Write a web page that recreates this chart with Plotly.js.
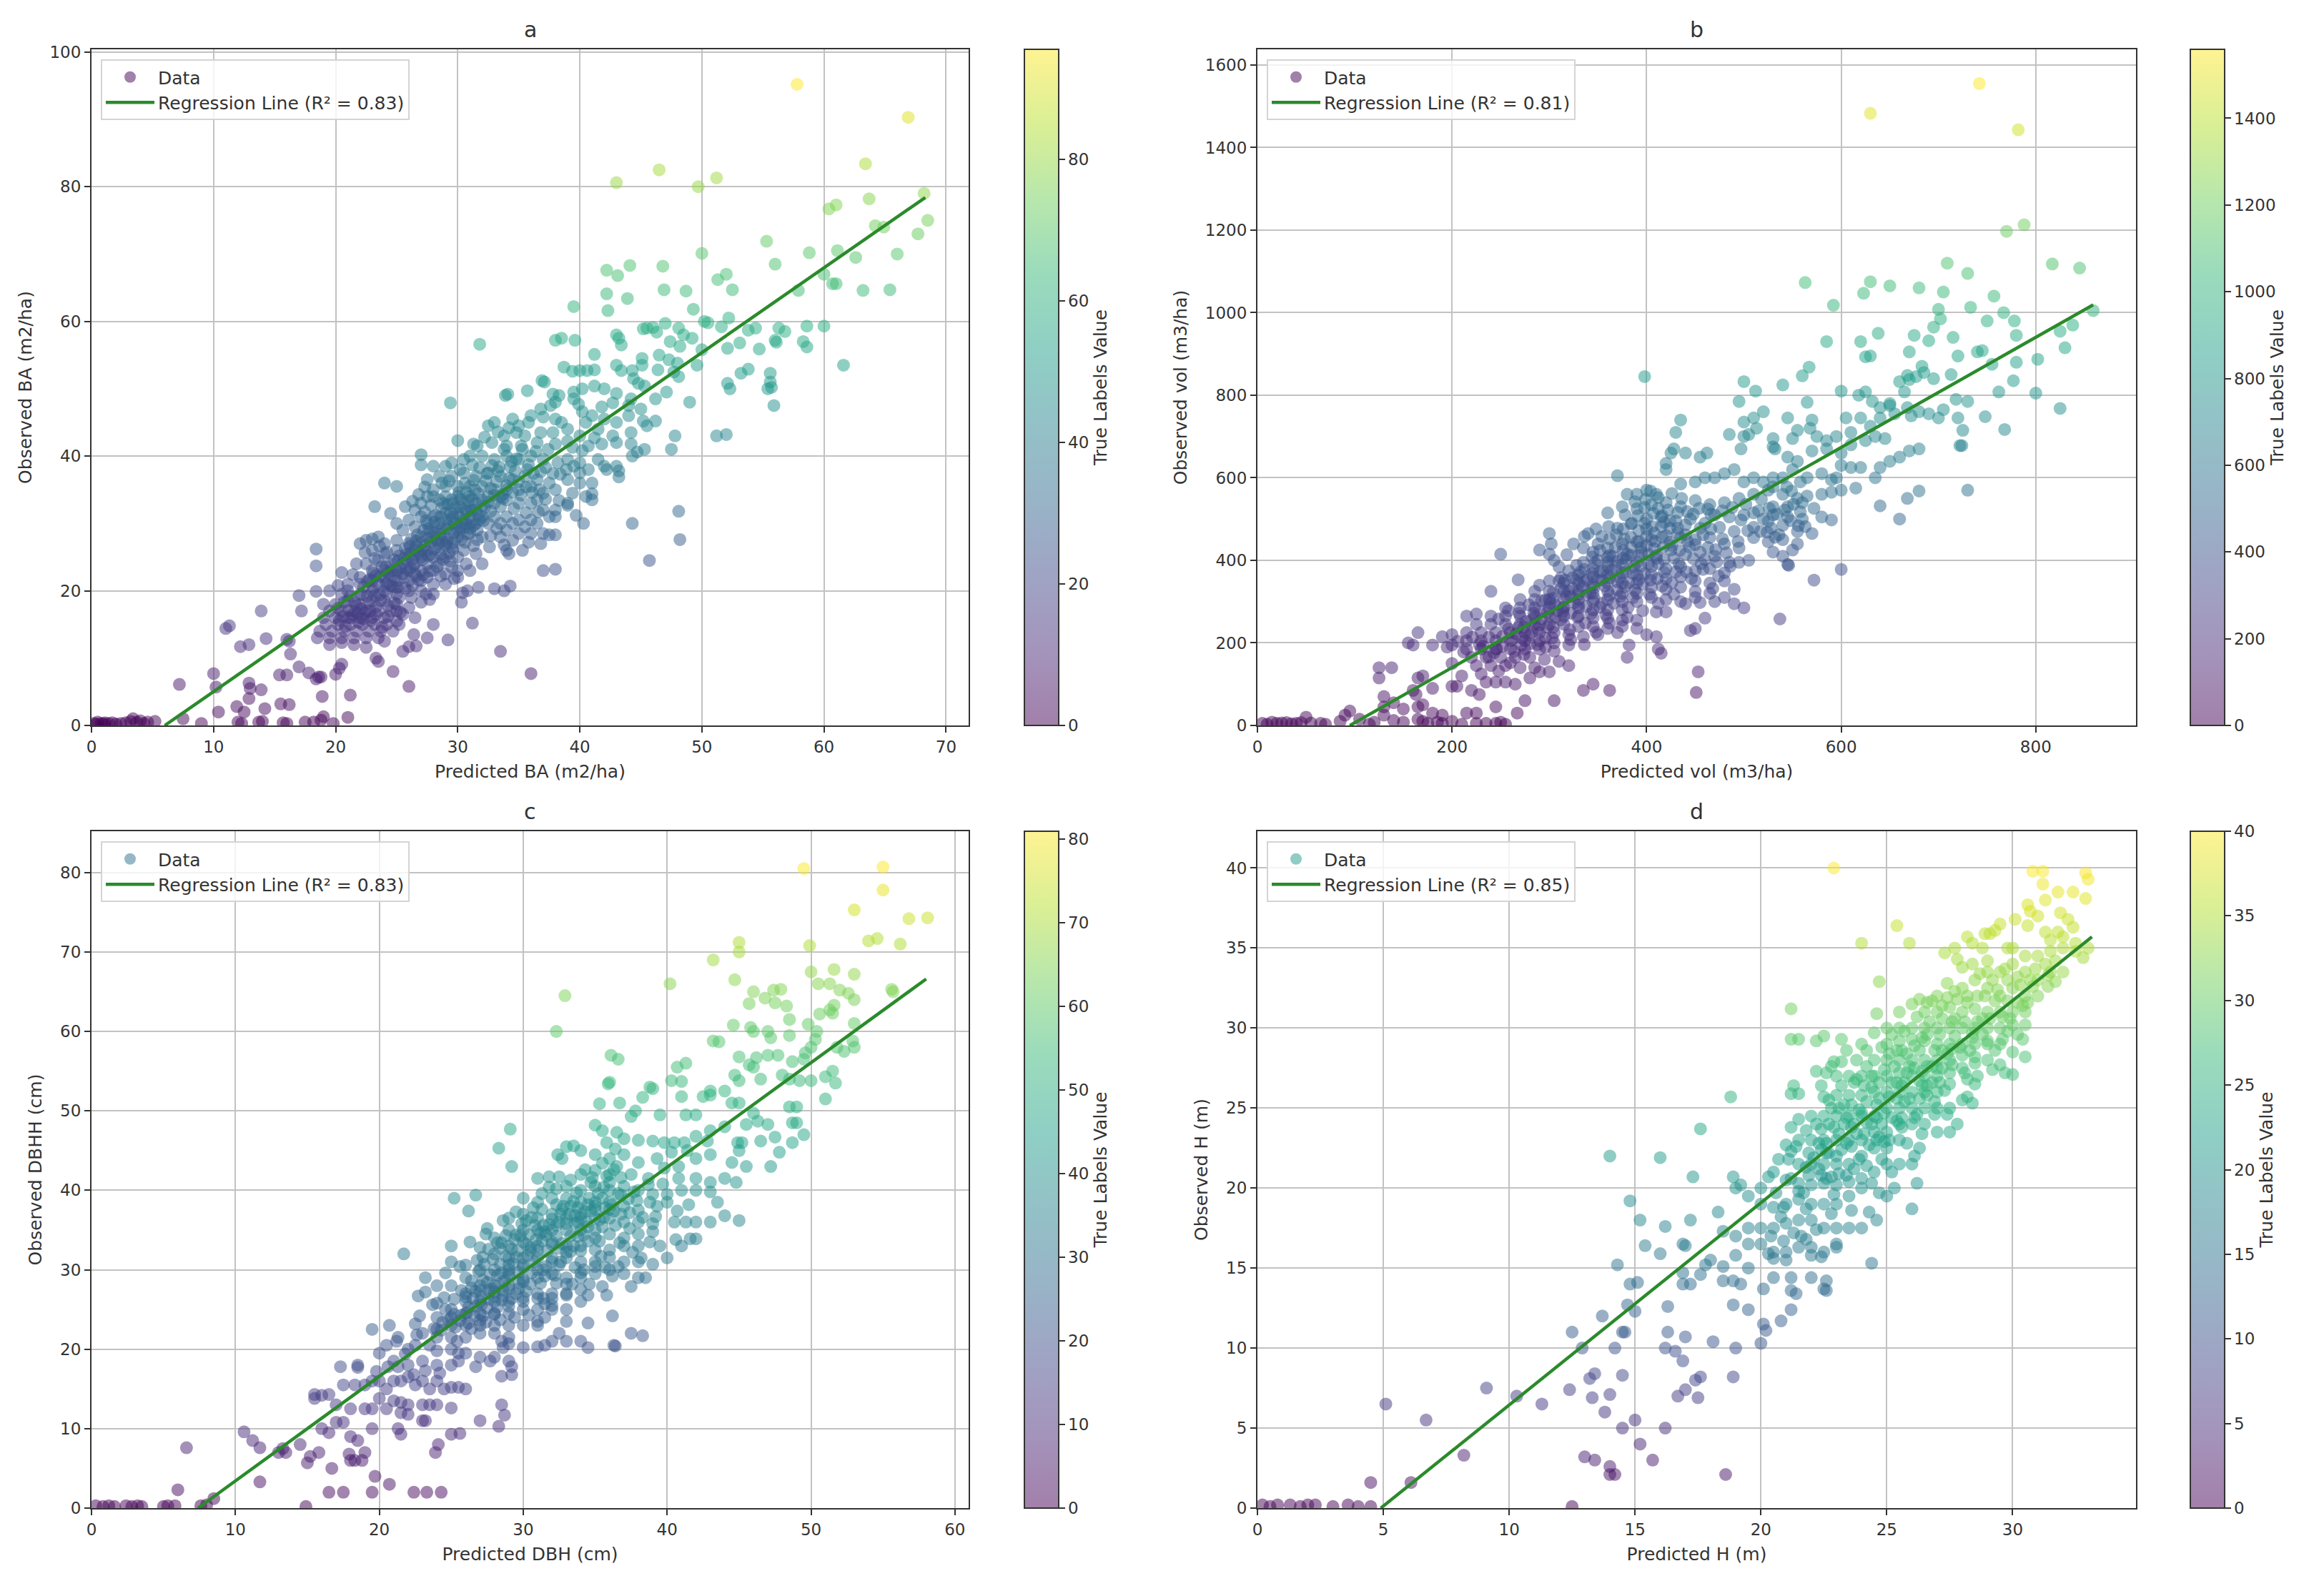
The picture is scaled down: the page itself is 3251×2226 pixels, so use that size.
<!DOCTYPE html>
<html>
<head>
<meta charset="utf-8">
<script src="https://cdn.plot.ly/plotly-3.0.1.min.js"></script>
<style>
  body { margin: 0; background: #fff; }
</style>
</head>
<body>
<div id="chart"></div>
<script>
// [predicted, observed] pairs, first pair sets the legend dot colour
const baPoints = [
[0.2,0.3],[0.5,0.5],[0.8,0.3],[1.1,0.4],[1.4,0.3],[1.7,0.4],[2,0.2],[2.4,0.3],[2.8,0.4],[3.2,0.6],[3.4,1],[3.7,0.5],[4,0.7],[4.3,0.3],[4.6,0.5],[5.2,0.6],[0.4,0.2],[1,0.2],
[57.8,95.2],[66.9,90.3],[63.4,83.4],[46.5,82.5],[43,80.6],[51.2,81.3],[49.7,80],[68.2,79],[63.7,78.2],[61,77.3],[60.4,76.7],[64.2,74.2],[64.9,74],[68.5,75],[67.7,73],[55.3,71.9],[50,70.1],[58.8,70.2],[61.1,70.5],[62.6,69.5],[66,70],[56,68.5],[46.8,68.2],[44.1,68.3],[42.2,67.6],[43.1,66.8],[52,67],[51.3,66.2],[60,67],[60.7,65.6],[61,65.6],[52.5,64.7],[48.7,64.5],[46.9,64.7],[42.2,64.1],[43.9,63.4],[57.9,64.6],[63.2,64.6],[65.4,64.7],[39.5,62.2],[42.3,61.6],[49.3,61.8],[50.2,60],[50.5,59.8],[51.6,59.2],[52.2,60.5],[53.8,58.7],[54.4,59],[56.3,59],[56.8,58.5],[58.6,59.3],[60,59.3],[31.8,56.6],[48.1,59],[47,59.7],[46,59.1],[45.2,58.9],[45.5,59],[46.3,58.4],[48.5,58],[49.2,57.5],[47.4,57],[48.2,56.3],[43,58],[43.2,57.5],[43.4,56.5],[38.5,57.5],[38,57.2],[39.6,57.2],[41.2,55.1],[56,57.2],[58.3,57],[58.6,56.2],[56.1,56.9],[52.1,56],[53.1,56.8],[54.7,55.9],[50,55.8],[46.5,55],[45.1,54.5],[47.3,54.3],[48,53.8],[49.6,53.5],[38.7,53.2],[39.4,52.6],[40,52.7],[40.6,52.7],[41.2,52.8],[43,53.5],[43.4,52.7],[44.3,52.7],[45.1,53.5],[46.4,52.8],[47.7,52.5],[48.1,51.8],[61.6,53.5],[53.2,52.3],[53.8,52.9],[55.6,52.3],[55.6,51],[55.4,50],[55.7,50.2],[52.1,50.8],[52.3,50],[55.9,47.5],[49,48],[44.8,50.8],[45.3,50.4],[44.4,51.5],[37.1,51],[36.9,51.2],[34.1,49.2],[33.9,49],[35.7,49.7],[29.4,47.9],[37.8,49.2],[38.3,49],[39.5,49.5],[40.2,50],[41.2,50.4],[42,50],[43,49.3],[44.2,48.5],[46.2,48.5],[47.1,49.5],[38,48],[39.5,48.5],[39.9,47.7],[37.6,47.5],[41.8,47.3],[42.7,47.9],[44,47.5],[45,47],[45.2,45.2],[46.2,45.2],[44,46],
[32.5,44.5],[33,45],[34.5,45.5],[35,44.5],[36,46],[37,45.8],[38,45.5],[38.5,45],[40.5,45],[41,46],[42,45.5],[43,45],[45.5,44.5],[33.8,43],[34.8,43.5],[35.5,43],[36.8,43.5],[37.8,43.5],[39,44],[40,43],[41.5,44],[42.7,43],[44.2,43.5],
[30,42.3],[31.3,41.8],[31.6,41.5],[32.8,42],[34,41.5],[35.2,41.5],[36.5,42],[38,41.8],[39,42.2],[40.7,41.5],[41.8,41.8],[43,42],[44.2,41.8],[47.8,43],[51.2,43],[52,43.2],[44.7,40.6],[45.3,41],[47.5,41],[44.3,40],
[27,40.2],[27,38.7],[28,38.5],[29,38.5],[29.5,39],[30.5,39.5],[31,40],[32,40],[33,39.5],[34,40],[35,39.5],[36,40],[37,39.5],[38.2,39],[39,39.5],[40,39],[41.5,39.5],[42,38.5],[43,38.5],[43.2,37.8],[42.2,38],[38.9,38],[39.5,38.5],
[24,36],[25,35.5],[27.5,36.5],[28.5,37],[29.5,37],[30.5,37.5],[31.5,37],[32.5,37.5],[33.5,37],[34.5,36.5],[35.5,37],[36.5,36.5],[37.5,36],[39,36.5],[40,36],[41,36],[43.2,36.9],[28,35],[29,35.5],[30,35.5],[31,35.5],[32,35.5],[33,35],[34,35],[35,35],[36,35.5],[37,34.5],[38,35],[40.5,34],[41,34.4],
[23.2,32.5],[24.5,31.5],[25.7,32.5],[26.5,32],[27,33],[27.5,34],[28,34],[28.5,33.5],[29,34],[29.5,33.5],[30,34],[30.5,33],[31,34],[31.5,33],[32,33.5],[32.5,34],[33,33],[33.5,32.5],[34,33.5],[35,33],[36,33],[36.5,33.5],[37,32],[38,32],[39,33],[39,32.7],[41,33.5],[38,31],[44.3,30],[48.1,31.8],[40.3,30],
[25,30],[25.5,29],[26,30.5],[26.5,29.5],[27,31],[27.5,30],[28,31],[28.5,30],[29,31.5],[29.5,30.5],[30,31.5],[30.5,30.5],[31,31],[31.5,30],[32,31],[32.5,30],[33,31],[33.5,30],[34,31],[34.5,30],[35,30.5],[35.5,29.5],[36,30.5],[36.5,30],[37.5,31],[34,29],[35,28.5],[36,28.5],[37,28.5],[37.5,28.3],[38,28.3],[33.5,28],[34.5,27.5],[48.2,27.6],[45.7,24.5],[37,23],[38,23.2],[34.2,25.5],[34,26],[31.5,25.5],[32,24],[31,23],[30,23],[31.7,20.5],[30.8,20],[30.4,19.7],[33,20.3],[33.8,20],[34.3,20.7],[30.3,18.3],[27,18.3],[27.7,18.7],[25,19.5],[26.2,19],[28,15],[31.2,15.2],[29.2,12.7],[26.4,13.5],[25.5,11],[26,11.7],[33.5,11],[23.5,9.5],[23.3,10],[24.7,8],[26,5.8],[36,7.7],
[22,27],[22.5,27.5],[23,27.7],[23.5,28],[24,27],[25,27.5],[26,27],[27,28],[28,28],[29,28],[30,28],[31,28.5],[32,28],[26.5,26],[27.5,26],[28.5,26.5],[29.5,26.5],[30.5,26],[23,26],[24,25.5],[25,26],[26,25],[27,25],[28,25],[29,25],[30,25],[21.7,24],[22.5,24],[23.5,24.5],[24.5,24],[25.5,24],[26.5,24],[27.5,24],[28.5,24],[29.5,23.5],[22,22],[23,23],[24,23],[25,23],[26,23],[27,23],[28,23],[29,22.5],[30,22],
[21,21],[22,21],[23,21.5],[24,22],[25,21.5],[26,21.5],[27,21.5],[28,21],[29,21],[27,20],[21,20],[20.5,19.5],[22,19.5],[23,20],[24,20],[25,20.5],[26,20],[28,19.5],[23.5,21],[24.5,20.8],[25.5,22.5],[26.5,22.5],[27.5,22],
[18.4,26.2],[18.4,23.7],[19.5,20],[17,19.3],[18.4,19.9],[17.2,17],[13.9,17],[11,14.4],[11.3,14.8],[12.2,11.7],[12.9,12],[14.3,12.9],[16,12.8],[16.2,12.5],[16.3,10.6],[17,8.7],[15.4,7.5],[16,7.5],[17.8,7.8],[18.6,7.2],[18.4,6.9],[18.8,7.2],[7.2,6.1],[10,7.7],[10.2,5.7],[12.9,6.3],[13,5.5],[13.9,5.3],[12.9,4],[18.9,4.3],[21.2,4.5],[20,7.6],[20.3,8.5],[20.5,9.1],[10.4,2],[11.9,2.8],[12.5,2],[14.2,2.5],[15.5,3.2],[16.2,3.1],[19,1.3],[21,1.2],[7.5,1],[9,0.3],[12,0.5],[12.3,0.3],[13.7,0.5],[14,0.6],[15.7,0.4],[16,0.3],[17.5,0.5],[18.2,0.5],[18.8,0.8],[19.8,0.3],
[19,18],[20,18],[21,18.5],[22,18],[23,18.5],[24,18.5],[25,18],[26,17.5],[19.5,17],[20.5,17],[21.5,17],[22.5,17],[23.5,17],[24.5,17],[25.5,16.5],[19,16],[20,16],[21,16],[22,16],[23,16],[24,16],[25,15.5],[19.2,15],[20.2,15],[21.2,15],[22.2,15],[23.2,15],[24.2,15],[25.2,15],[18.7,14],[19.7,14],[20.7,14],[21.7,14],[22.7,14],[23.7,14],[24.7,14],[18.5,13],[19.5,13],[20.5,13],[21.5,13],[22.5,13],[23.5,13],[19.5,12],[20.5,12.3],[21.5,12],[22.5,11.6],[24,12.5],[26.6,11.8],[27.5,13],[25,17],[26.5,16]
];
// second pass over the dense part of panel a
const baCore = [
[20.3,15.6],[20.8,14.7],[21.4,16.4],[21.9,15.3],[22.4,16.7],[22.9,15.6],[23.3,17.6],[23.8,14.6],[24.3,16.2],[24.8,18.2],[25.3,16.8],[20.2,17.4],[20.7,18.3],[21.2,19.2],[21.7,17.8],[22.2,19.4],[22.7,18.2],[23.2,19.3],[23.7,18.6],[24.2,19.6],[24.7,20.6],[25.2,19],[25.7,20.4],[26.3,20.8],[26.8,21.6],[27.2,22.4],[27.7,22.9],[28.3,23.6],[28.8,24.7],[29.3,25.6],[29.7,27.2],[30.3,27.6],[30.8,28.4],[31.3,29.7],[31.8,30.6],[22.3,20.6],[22.8,21.7],[23.3,22.3],[23.8,23.6],[24.3,22.7],[24.8,24.6],[25.3,23.4],[25.8,25.4],[26.3,24.7],[26.8,25.6],[27.3,26.7],[27.8,27.2],[28.2,27.6],[28.7,27.3],[29.2,27.7],[29.7,28.6],[30.2,29.4],[30.7,30],[31.2,32],[31.7,31.3],[25.2,25.2],[25.7,26.3],[26.2,27.7],[26.7,28.3],[27.2,29],[27.7,28.8],[28.2,29.4],[28.7,29.2],[29.2,29.7],[29.7,30],[30.2,32.4],[30.7,31.8],[31.2,33.6],[31.7,34.4],[32.2,32.3],[32.7,35.2],[33.2,36.2],[33.7,34.3],[34.2,36.7],[34.7,37.8],[35.2,34.2],[35.7,38],[36.2,37.4],[37.2,38.3],[37.8,37.4],[38.4,37.3],[28.2,31.2],[28.7,32.3],[29.2,32.8],[29.7,32.2],[30.2,33.6],[30.7,34.6],[27.3,31.7],[27.8,32.7],[31.3,36.4],[31.8,38.3],[32.3,36.3],[32.8,38.6],[33.3,37.8],[33.8,41],[34.3,38.4],[34.8,39.6],[35.3,41],[35.8,38.7],[36.4,40.7],[36.8,37.7],[37.4,41],[39.4,41.3],[40.2,40.8],[40.7,38],[41.2,42.7],[32.2,42.8],[33.3,43.6],[34.2,44.2],[35.8,45],[36.8,47],[40.2,46.6],[31.2,38.7],[30.2,38],[29.3,36.3],[28.7,36],[27.3,35.4],[26.8,34.3],[26.3,33.3],[33.2,29.2],[32.7,28.2],[33.8,26.8],[32.6,26.5],[31.3,26.7],[35.3,26],[35.8,27.2],[36.8,27],[30.7,24],[29.7,21.8],[28.6,22.2],[27.4,19.5],[24.2,25.7],[23.6,26.6],[22.4,25.7],[21.4,22.4],[20.5,22.7],[20.2,20.8],[23.2,24.8],[29.4,24.4],[30.6,27.2],[31.6,27.6],[32.7,31.8],[33.7,33.7],[34.6,32.2],[35.6,31.6],[36.6,31.7],[37.2,33.6],[38.3,33.4],[39.4,34.5],[40,37.5],[39.7,31.2],
[20.6,16.2],[21.1,17.1],[21.6,18.2],[22.1,17.3],[22.6,19.2],[23.1,20.4],[23.6,19.4],[24.1,21],[24.6,22.2],[25.1,20.6],[25.6,22],[26.1,23.4],[26.6,22.2],[27.1,24.6],[27.6,25.2],[28.1,26.2],[28.6,25.4],[29.1,27.2],[29.6,26.2],[30.1,28.8],[30.6,29.4],[31.1,30.2],[31.6,29],[32.1,30.4],[22.6,21.4],[23.1,22.6],[23.6,22.1],[24.1,23.6],[24.6,23],[25.1,24.4],[25.6,24.8],[26.1,25.6],[26.6,26.6],[27.1,26],[27.6,27.8],[28.1,28.6],[28.6,28.4],[29.1,29.2],[29.6,31],[30.1,31],[30.6,32.2],[31.1,31.8],[26.1,26.6],[26.6,27.4],[27.1,27.2],[27.6,29.2],[28.1,30.2],[28.6,31],[29.1,30.6],[29.6,33],[30.1,34.6],[30.6,36],[24.2,21.2],[25,22.4],[25.8,23.2],[26.4,23.8],[27,25.4],[27.8,25.4],[28.4,27],[29,26.8],[29.9,29],[30.4,30],[31,29.3],[31.5,32],[32,32.6],[32.5,33.2],[33,34.2],[33.5,34],[34,35.6],[34.5,34.6],[35,36.2],[35.6,35.4],[36.1,34.6],[36.7,35],[27.4,30.4],[28.8,33],[29.4,31.6],[30.9,33.4],[31.4,35],[32.4,37.4],[33.4,38.4],[34.4,39.2],[21.3,16],[22.3,15.8],[23.3,16.5],[24.3,17.8],[22.8,17],[21.8,16.6]
];
const volPoints = [
[5,5],[15,8],[25,6],[35,4],[45,7],[55,6],[65,5],[10,3],[20,5],[30,7],[40,5],[50,20],[70,3],[85,10],[90,25],[95,35],[115,3],[105,15],[120,8],[130,25],[140,12],[150,8],[165,15],[170,10],[175,5],[185,8],[190,5],[200,10],[210,3],[225,5],[235,5],[245,5],[250,8],[255,3],[130,45],[140,55],[150,40],[165,45],[170,50],[180,30],[190,25],[215,30],[225,30],[245,45],[267,30],[275,60],[305,60],[335,85],[345,100],[362,85],[451,80],[453,130],[415,175],[412,185],
[630,1483],[742,1555],[782,1443],[788,1213],[770,1197],[563,1073],[630,1075],[623,1047],[650,1065],[680,1060],[709,1120],[730,1095],[817,1118],[845,1108],[705,1050],[757,1040],[592,1018],[700,1008],[733,1013],[767,1000],[859,1005],[702,985],[750,980],[778,980],[695,965],[715,940],[780,945],[838,970],[825,955],[585,930],[620,930],[638,950],[675,945],[690,932],[670,905],[630,895],[625,893],[720,895],[740,905],[745,908],[830,915],[780,880],[755,875],[802,887],[567,868],[560,847],[398,845],[683,870],[677,845],[670,838],[660,833],[685,855],[668,848],[695,840],[713,850],[777,835],[500,833],[540,825],[512,810],[600,810],[618,800],[625,808],[632,785],[650,780],[640,770],[565,783],[495,785],[500,735],
[650,775],[665,808],[668,770],[680,760],[672,750],[690,755],[705,765],[718,790],[730,785],[720,745],[700,745],[748,748],[762,808],[800,805],[825,768],[768,717],[725,715],[724,678],[722,678],[730,570],[680,568],[668,550],[640,532],[660,500],[580,505],[590,498],[600,378],[572,352],[546,388],[537,258],[435,740],[430,710],[505,705],[485,705],[513,720],[510,745],[520,760],[545,745],[570,740],[568,720],[575,700],[585,690],[595,700],[610,710],[605,745],[620,745],[630,725],[640,745],[655,755],[625,690],[635,700],[645,695],[555,715],[530,695],[550,695],[530,675],[532,670],[600,660],[610,680],[585,670],[570,665],[670,665],[680,670],[660,650],[650,640],[640,625],[635,600],[620,625],[610,625],[600,630],[595,600],[580,610],[590,595],[555,640],[545,650],[497,670],[500,700],[462,660],[455,650],[425,660],[428,670],[440,660],[420,635],[420,620],[370,605],[380,560],[390,560],[400,570],[410,560],[435,585],[450,590],[460,600],[470,600],[480,610],[490,620],[500,590],[510,600],[520,590],[530,600],[540,600],[550,620],[565,600],[580,560],[590,565],[600,570],[615,575],
[360,515],[375,530],[390,525],[405,535],[420,540],[435,530],[450,545],[465,535],[480,540],[495,550],[510,560],[525,570],[540,560],[555,550],[530,530],[545,530],[560,540],[470,510],[485,505],[500,510],[515,520],[530,510],[545,505],[560,500],[385,490],[400,500],[415,505],[430,495],[445,500],[460,490],[475,480],[490,470],[510,480],[525,495],[540,485],[555,470],[570,465],[340,465],[350,440],[300,465],[302,440],[290,425],[300,415],[305,400],[250,415],[240,325],[268,353],[290,340],[310,350],[325,440],[335,430],[345,420],[360,430],[375,440],[390,445],[405,450],[420,460],[435,455],[450,450],[465,455],[480,440],[495,430],[510,455],[525,445],[540,450],[555,440],[550,425],[540,410],[530,420],[505,400],[495,395],[545,390],
[350,400],[365,410],[380,415],[395,420],[410,405],[425,425],[440,415],[455,420],[470,410],[485,395],[335,395],[345,380],[360,385],[375,390],[390,395],[405,385],[420,380],[435,385],[450,375],[465,380],[480,370],[320,375],[330,365],[345,360],[360,365],[375,370],[390,365],[405,365],[420,355],[435,360],[450,350],[465,345],[480,350],[490,330],[300,350],[315,345],[330,345],[345,340],[360,345],[375,345],[390,345],[405,335],[420,330],[435,335],[450,325],[465,320],[480,310],[490,295],[500,285],[285,325],[300,325],[315,325],[330,325],[345,320],[360,325],[375,320],[390,320],[405,310],[420,305],[435,300],[450,310],[470,300],[270,305],[285,305],[300,305],[315,305],[330,305],[345,300],[360,305],[375,300],[390,300],[410,275],[420,275],[440,295],[450,235],[445,230],[460,260],
[255,285],[270,285],[285,285],[300,285],[315,285],[330,285],[345,280],[360,280],[375,280],[240,265],[255,265],[270,265],[285,265],[300,265],[315,265],[330,265],[345,260],[360,260],[375,255],[390,255],[225,270],[215,265],[225,245],[240,245],[255,245],[270,245],[285,245],[300,245],[315,245],[330,240],[345,240],[360,235],[375,240],[390,235],[400,220],[410,215],[215,225],[230,225],[245,225],[260,225],[275,225],[290,225],[305,225],[320,220],[335,215],[350,220],[370,225],[382,195],[380,165],[200,220],[215,205],[230,205],[245,205],[260,205],[275,205],[290,205],[305,200],[320,195],[200,195],[215,185],[230,185],[245,185],[260,185],[275,185],[290,185],[305,180],[220,165],[235,165],[250,165],[265,165],[280,165],[295,160],[310,155],[320,145],[225,145],[240,145],[255,145],[270,140],[285,140],[300,130],[230,125],[245,105],[255,105],[265,100],[280,115],[290,130],[200,150],[195,190],[165,225],[155,200],[160,195],[180,195],[190,215],[125,140],[138,140],[125,115],[165,115],[170,120],[180,90],[200,95],[205,95],[130,70],[160,85],[163,75],[210,120],[220,85],[228,75],[235,105]
];
// second pass over the dense part of panel b
const volCore = [
[243,176],[252,192],[262,208],[271,194],[279,218],[288,234],[296,212],[304,238],[312,256],[321,232],[329,262],[337,248],[343,271],[352,286],[358,268],[366,296],[373,312],[381,286],[388,328],[396,342],[403,318],[411,356],[418,371],[426,346],[433,392],[441,372],[448,404],[456,392],[463,431],[471,426],[478,452],[268,237],[276,252],[284,272],[292,258],[301,296],[309,278],[317,314],[326,298],[334,336],[342,321],[349,352],[357,338],[364,376],[372,358],[379,402],[387,384],[394,431],[402,414],[409,446],[417,432],[424,478],[432,466],[440,486],[448,512],[455,478],[463,524],[316,352],[324,332],[332,372],[339,352],[347,394],[355,374],[362,412],[370,398],[377,452],[384,432],[392,472],[400,458],[407,514],[415,482],[422,522],[376,476],[369,462],[361,482],[354,458],[391,508],[399,548],[406,482],[348,476],[336,458],[318,414],[310,384],[382,346],[398,368],[412,392],[428,406],[444,432],[460,402],[474,362],[486,386],[468,332],[455,298],[428,318],[412,296],[396,278],[380,262],[362,248],[348,226],[336,196],[322,208],[303,212],[288,196],[274,172],[260,152],[248,132],[238,166],[228,196],[221,214],[212,178],[206,204],[248,258],[258,278],[269,272],[279,292],[292,302],[304,322],[518,548],[526,526],[534,512],[542,522],[551,536],[558,518],[565,556],[528,478],[536,462],[548,496],[556,484],[563,482],[572,526],[524,468],[520,500],[530,578],[544,578],[558,590],[549,568],[532,456],[517,470],[510,515],[502,536],[497,498],[488,528],[478,520],[466,512],[454,526],[442,518],[436,550],[426,562],[412,552],[398,528],[404,568],[388,542],[378,510],
[282,256],[290,278],[298,274],[306,292],[314,286],[322,312],[330,318],[338,316],[346,334],[354,352],[362,358],[370,348],[378,372],[386,368],[394,386],[402,392],[410,412],[418,402],[426,436],[434,424],[442,446],[450,438],[458,462],[466,476],[296,304],[304,308],[312,332],[320,326],[328,352],[336,348],[344,368],[352,372],[360,396],[368,384],[376,406],[384,412],[392,412],[400,436],[408,428],[416,456],[424,444],[432,478],[440,462],[344,408],[352,424],[360,408],[368,432],[376,424],[384,456],[392,446],[400,476],[408,466],[416,508],[424,496],[432,516],[328,388],[336,378],[324,358],[312,358],[258,234],[266,222],[274,238],[282,226],[290,244],[298,238],[306,262],[314,276],[322,272],[330,292],[338,288],[346,308],[354,296],[362,316],[370,328],[378,336],[386,310],[238,214],[232,192],[252,216],[246,186],[264,180],[272,212],[280,198],[296,190],[362,452],[370,478],[384,488],[398,490],[412,526],[418,492],[392,354],[404,352],[416,338],[430,372],[446,356],[458,378],[472,396],[482,418],[494,446],[504,472]
];
const dbhPoints = [
[29,30],[0.3,0.3],[0.8,0.2],[1.2,0.3],[1.6,0.2],[2.4,0.3],[2.8,0.2],[3.2,0.3],[3.5,0.2],[5,0.2],[5.3,0.3],[5.8,0.3],[7.6,0.3],[8,0.4],[14.9,0.2],[8.5,1.2],[6,2.3],[6.6,7.6],
[49.5,80.5],[55,80.7],[55,77.8],[53,75.3],[56.8,74.2],[58.1,74.3],[54,71.4],[54.6,71.7],[56.2,71],[45,71.2],[45,70],[49.9,70.8],[43.2,69],[40.2,66],[32.9,64.5],[32.3,60],[44.7,66.5],[46,65],[47.4,65.2],[47.9,65.3],[46.8,64.2],[50,67.5],[51.6,67.8],[53,67.2],[50.5,66],[51.3,66],[52,65.2],[52.6,64.8],[53,64],[55.6,65.3],[55.7,65],[45.7,63.5],[47.5,63.6],[48.3,63.2],[51.6,63.3],[51.3,62.7],[51.5,62.3],[50.6,62.2],[48.5,61.5],[44.6,60.8],[45.8,60.5],[46,60],[47,60],[47.2,59.2],[48.5,59.5],[49.8,60.9],[50.4,60],[53,61],[43.2,58.8],[43.6,58.7],[50.3,59],[50,58],[49.6,57.3],[51.8,58],[52.3,57.5],[52.9,58.8],[53,58],[36.1,57],[36.6,56.5],[41.3,56],[40.7,55.5],[45,56.8],[46.2,56.7],[47,57],[47.7,57],[48.7,56.2],[49.5,56.5],[51.5,55],[45.7,55.8],[46,55.5],[44.7,54.5],[45,53.8],[46.5,54],[48,54.5],[48.5,54],[49.2,53.8],[50,53.8],[51,54.3],[51.7,53.5],[35.9,53.4],[39,52.8],[36,53.6],[38.8,53],[40.3,53.8],[41,53.7],[43,52.5],[42.5,51.8],[43,52],[41,51.8],[44,52.5],[44.5,51],[45,51],[51,51.5],[35.3,50.9],[36.7,51],[38.3,51.7],[37.8,50],[37.5,49.3],[39.5,49.5],[41.3,49.5],[42,49.5],[46,49.7],[46.3,48.7],[48.5,50.5],[49,50.5],
[48.7,48.5],[49,48.5],[47,48.3],[45.5,48.3],[44,48],[43,47.5],[42,46.8],[41.2,46],[40.5,46],[39.8,46],[39,46.2],[38,46.3],[37,46.5],[36.5,47.3],[35.8,46],[35,48.2],[35.5,47.5],[33.5,45.6],[33,45.5],[32.4,44.5],[32.7,44],[29.1,47.7],[28.3,45.3],[29.2,43],[44.9,46],[45.2,46],[46.5,46.2],[47.5,46.7],[48.7,46],[49.5,47],[47.8,44.8],[45,45],[44.5,43.5],[43,44.5],[42,44],[40.8,43],[39.8,42.8],[38,43.5],[37,44.5],[36,44],[35,44.5],[34,45],[34,42],[35,42.5],[36,42],[36.5,43],[37.5,42],[38.7,41.5],[40.8,41.5],[42,41.5],[43,41],[44,41.5],[44.8,41],[45.5,43],[47.2,43],
[31,41.5],[31.8,41.7],[32.5,41.7],[33,40.5],[34,40],[35,40.5],[36,41],[37,40.5],[38,40],[39,39.5],[40,39.5],[41,40],[42,40],[43,39.8],[43.5,38.5],[38.8,38.5],[39.3,38],[40,38.5],[41.5,38.2],[30,39],[31,38.5],[32,39],[33,39],[34,38.5],[35,38.5],[36,38.5],[37,38],[38,37.5],[44,36.8],[42,36],[40.5,36],[41.3,36],[43,36],[45,36.2],[25.2,39],[26.7,39.4],[26.2,37.4],[27.5,35.2],[29,36.5],[29.5,37.3],[30,37],[31,36.5],[32,37],[33,36.5],[34,36.5],[35,36.5],[36,36.5],[37,36],[38,36],[39,35.8],[29,35],[30,35],[31,35],[32,35],[33,35],[34,35],[35,35],[36,34.5],[37,34],[38,34.5],[39,34.8],[38.8,33.5],[39.5,33],[40.6,33.8],[41.6,33.9],[42,33.9],[41,33],[40,31.5],[38,31],[37,31],[38.2,31.5],[39,30.7],[36,32.5],[35,32.5],[34,33],[33,33],[32,33.5],[31,33],[30,33.5],[29,33],[28,34],[27,32.8],[25,33],[21.7,32],[25,31],[28,32],[29,31.5],[30,31.5],[31,31.5],[32,31.5],[33,31.5],[34,31],[35,31],[36,30],[37,29.5],
[38,29],[38.5,29],[37.5,27.9],[36.2,29.2],[35.5,27.9],[35.8,26.8],[36.2,24.2],[38.3,21.7],[37.5,22],[36.4,20.4],[36.3,20.5],[34.5,20.2],[34,21],[34.5,23.3],[33,23.5],[33,21],[32,21],[31.5,20.5],[31,20.3],[30,20.2],[29,20.7],[28.5,21],[28.6,20.2],[32.5,22],[31,23.5],[31.5,24],[32,25],[33,25],[34,26],[34.5,26.8],[30,30.3],[29,29.5],[28,30],[27,30],[26,29],[25,28],[24,28],[24.5,26.5],[23.2,29],[23.2,27.2],[22.8,24.2],[22.5,23.2],[26,27],[27,28],[28,28],[29,28],[30,28.5],[31,29],[32,29.5],[33,29],[34,29],[35,29.5],[25,25],[26,26],[27,26],[28,26],[29,26],[30,26.5],[31,27],[32,27],[33,27],[34,27.5],[24,24],[25,24],[26,24.5],[27,24.5],[28,24.5],[29,24.5],[30,25],[31,25],[32,25.5],[24,22.5],[25,23],[26,23],[27,23],[28,23],[29,23],[30,23],[31,23],[23,22],[24,21.5],[25,21.5],[26,21.5],[27,22],[28,22],[29,21.5],
[19.5,22.5],[20.7,23],[20.5,20.5],[21.2,21],[21.3,21.5],[22,20],[22.5,20.5],[23.5,20.5],[24,19.8],[25,20],[25.5,19.5],[26,19.5],[27,19],[27.7,18.5],[29,18.5],[29.2,17.8],[29.2,16.8],[28.5,16.6],[28,19],[26.7,17.8],[25.5,18.5],[25,18],[24,18],[23,18.5],[22,18],[21,18.5],[20,19.5],[18.5,18],[18.5,17.7],[17.3,17.8],[19.5,16],[20,16],[21,16],[22,16.5],[23,16],[24,16],[25,15.2],[25.5,15.2],[26,15],[24.5,15],[23.5,15],[22.5,15.5],[21.5,16],[20.5,15],[19,15.5],[18.3,15.5],[17.5,15.5],[16,14.2],[16.5,14.3],[15.5,14.3],[15.5,13.8],[17,13],[18,12.5],[19,12.5],[19.5,12.5],[20,13.8],[21,13.5],[21.5,13.3],[22,13],[23,13],[23.5,13],[24,13],[25,12.6],[23,11],[23.2,11],[22,11.8],[21.5,12],[20.5,12.5],[28.5,13],[28.7,11.7],[28.3,10.3],[27,11],[25.6,9.4],[25,9.3],[21.3,10],[21.5,9.3],[19.5,10],[17,10.8],[17.5,10.8],[16,10],[16.5,9.5],[18,9],[18.5,8.5],[10.6,9.6],[11.2,8.5],[11.7,7.6],[13.3,7.5],[14.5,8],[13.5,7],[15.2,6.5],[15.8,7],[15,5.7],[17.9,6.8],[18,6],[18.3,6],[19,7],[18.8,6],[16.7,5],[19.7,4],[20.7,3],[11.7,3.3],[16.5,2],[17.5,2],[19.5,2],[22.4,2],[23.3,2],[24.3,2],[23.9,7],[24.1,8],[13,7]
];
// second pass over the dense part of panel c
const dbhCore = [
[24.3,22.4],[24.8,23.6],[25.3,22.8],[25.7,24.3],[26.2,23.3],[26.7,25.4],[27.2,24.2],[27.6,26.3],[28.2,25.3],[28.6,27.4],[29.2,26.4],[29.7,28.4],[30.2,27.3],[30.6,29.6],[31.2,28.3],[31.6,30.4],[32.2,29.3],[25.2,26.3],[25.7,27.4],[26.2,25.3],[26.7,27.3],[27.2,28.7],[27.6,27.4],[28.2,29.3],[28.7,28.6],[29.3,30.8],[29.7,29.7],[30.3,31.8],[30.8,31],[31.3,33.6],[31.7,32.4],[32.3,34.2],[32.7,33.3],[33.3,34.3],[33.6,35.8],[34.2,34.4],[34.7,37.4],[35.3,36.3],[35.7,37.8],[36.3,37.4],[36.6,39.6],[37.3,38.9],[37.7,39.8],[26.4,28.6],[26.9,29.8],[27.3,30.7],[27.9,31.3],[28.4,32.7],[28.8,31.7],[29.4,33.8],[29.8,34.3],[30.4,34.4],[30.8,35.6],[31.3,37.6],[31.8,35.7],[32.3,38.2],[32.7,37.6],[33.3,38],[33.7,39.7],[34.3,37.3],[34.7,41],[35.2,39.6],[35.8,41.8],[36.3,42.6],[36.8,41.6],[30.2,36.2],[30.7,37.8],[31.3,39.6],[31.8,40.4],[32.3,40.2],[32.8,38],[33.3,41.3],[33.8,37.8],[34.3,42.6],[34.8,41.6],[35.5,43.4],[36.4,45.2],[32.3,35.6],[33.3,32.3],[33.8,34.2],[34.5,33.6],[35.3,33.6],[36.4,35.6],[36.7,33.4],[37.4,35.2],[38.3,36.6],[39.2,36.7],[37.6,32.2],[35.7,30.3],[34.6,28.2],[33.4,28.2],[32.3,28.3],[31.4,26.4],[30.4,24.3],[29.4,24],[28.4,23.7],[27.4,23.4],[26.4,22.6],[25.4,21],[24.4,23.4],[23.7,25.6],[22.7,26.7],[23.8,22.6],[22.6,21.8],[21.8,19.4],[21.3,17.8],[22.4,16.8],[23.2,17.3],[24.2,17],[20.6,17.8],[19.8,17.2],[26.4,27.7],[27.7,29.4],[28.4,30.7],[28.6,26.7],[29.7,27.6],[31.5,25.7],[33,26.8],[34.2,30],[35.4,31.7],[36.6,30.4],[33.6,30.3],[32.6,31],[31.4,30],[27.4,34.5],[28.6,36.2],[26.3,33.5],[25.6,30.4],[24.6,29.6],[27.2,31.6],[28.5,33.4],[29.5,34.4],[30.5,32.4],[31.6,34.4],[32.5,32.7],[33.6,36.8],[34.6,39],[35.6,40.4],[36.8,39.4],[37.9,38.7],[38.7,40.7],[39.7,40.8],[40.7,37.4],[39.3,44],[40.3,44.8],[41.4,45],[42.8,46.2],
[25.6,23.6],[26.1,24.6],[26.6,24.2],[27.1,25.6],[27.5,25.2],[28,26.6],[28.5,26.2],[29,27.6],[29.5,27],[30,28.8],[30.5,28.2],[31,30],[31.5,29.2],[32,31],[32.5,30.6],[33,32.2],[33.5,33],[34,32.4],[34.5,35.4],[35,34],[35.5,35.4],[36,37.6],[26,26.6],[26.5,26.4],[27,27.4],[27.5,28.4],[28,27.2],[28.5,29.6],[29,29.2],[29.5,31.6],[30,30.6],[30.5,32.8],[31,32.4],[31.5,34.8],[32,33.2],[32.5,36],[33,35.8],[33.5,38.6],[34,37],[34.5,38.2],[35,37.6],[35.5,39],[36,40],[27.1,26.6],[27.8,27.6],[28.3,28.2],[29,30.6],[29.6,32.4],[30.2,33.2],[30.9,33.8],[31.4,35.6],[32,36.4],[32.6,37],[33.2,37],[33.8,36],[34.4,36],[35,38],[35.6,36.6],[36.2,38.2],[36.8,37],[37.4,37.2],[29.2,32.6],[29.9,35.8],[30.6,36.6],[31.2,34.6],[28.8,34.3],[28.2,33.4],[27.6,32.6],[26.8,31.2],[26,30.6],[25.2,24.4],[24.6,25],[24,25.8],[27,23.6],[28,24.4],[29,25.4],[30,26],[31,26.4],[32,26.4],[33,28.2],[34,29.6],[35,30.4],[36,31.6],[37,33],[38,33]
];
const hPoints = [
[23,22],[0.2,0.2],[0.5,0.1],[0.8,0.2],[1.3,0.2],[1.7,0.1],[2,0.2],[2.3,0.2],[3,0.1],[3.6,0.2],[4,0.1],[4.5,0.1],[4.5,1.6],[6.1,1.6],[5.1,6.5],[6.7,5.5],[8.2,3.3],[12.5,0.1],[18.6,2.1],[14,2.1],[14.2,2.1],[14,2.6],[13,3.2],[13.4,3],[15.7,3],[15.2,4],[14.5,5],[16.2,5],[15,5.5],[13.8,6],[9.1,7.5],[10.3,7],[11.3,6.5],[12.4,7.4],[13.3,6.9],[14,7.1],[16.7,7],[17,7.4],[17.5,6.9],[13.2,8.1],[13.4,8.4],[14.5,8.3],[17.4,8],[17.6,8.2],[18.9,8.2],[16.9,9.2],[16.6,9.8],[16.2,10],[14.2,10],[12.9,10],[18.1,10.4],[19,10],[20,10.3],[16.3,11],[17,10.7],[12.5,11],[14.5,11],[14.6,11],[20.1,11.5],[20.2,11.1],[20.8,11.7],[21.2,12.4],[13.7,12],[14.7,12.7],[15,12.3],[16.3,12.6],[18.9,12.7],[19.5,12.4],
[14.8,14],[15.1,14.1],[16.9,14],[17.2,14],[17.6,14.6],[18.5,14.2],[18.9,14.2],[19.2,14],[20.1,13.7],[20.5,14.4],[21.2,14.4],[21.2,13.6],[21.4,13.4],[22,14.4],[22.6,14.2],[22.6,13.6],[22.5,13.7],[16.9,14.7],[14.3,15.2],[24.4,15.3],[15.4,16.4],[16,15.9],[17,16.4],[16.9,16.5],[18,15.5],[17.8,15.2],[19,15.8],[19.5,15],[18.5,15.1],[15.2,18],[14.8,19.2],[16.2,17.6],[17.2,18],[18.3,18.5],[18.5,17.3],[17.3,20.7],[18.9,20.7],[19,20],[19.2,20.2],[16,21.9],[14,22],[17.6,23.7],[18.8,25.7],
[19,17],[19.5,17.5],[20,17.5],[20.5,17.5],[21,17.8],[21.5,18],[22,18],[22.5,17.5],[23,17.5],[23.5,17.5],[24,17.5],[19.5,16.5],[20,16.5],[20.5,16],[21,16],[21.5,16.3],[22,16.3],[22.5,16],[23,16.5],[20.3,15.9],[20.5,15.6],[21,15.5],[21.8,16.8],[22,15.8],[22.4,15.7],[23,16.3],[24.3,18.5],[25,19.5],[26,18.7],[26.2,20.3],[25.3,20],[24.7,19.7],[24.4,20.3],[24,20],[23.5,19.5],[23,19],[22.5,19],[22,19],[21.5,19.3],[21,19],[20.5,18.8],[20,19],[19.5,19.5],[20,20],[20.3,20.7],[20.5,21],[21,20.5],[21.5,20.3],[22,20.2],[22.5,20.3],[23,20.2],[23.5,20.4],[24,20.6],[24.5,21],[25,21.5],[25.5,21.5],[26,21.5],[26.1,22],[26.3,22.5],
[20.7,21.8],[21.1,21.8],[21,22.7],[21.2,22.3],[21.5,21.5],[22,21.5],[22.5,21.5],[23,21.5],[23.5,21.5],[24,22],[24.5,22.5],[25,22.5],[25.5,23],[21.2,23.8],[21.5,23],[22,23],[22.5,23],[23,23],[23.5,23],[24,23],[24.5,23.5],[25,23.5],[25.5,24],[26,24],[26.5,24],[27,23.5],[27.5,23.5],[27.8,24],[21.5,24.3],[22,24.5],[22.5,24.5],[23,24.5],[23.5,24.5],[24,24.5],[24.5,24.5],[25,25],[25.5,25],[26,25],[26.5,25],[27,25],[27.5,25],[28,25.5],[28.2,25.7],[28.4,25.3],[22.5,25.7],[23,25.8],[23.5,25.8],[24,25.8],[24.5,26],[25,26],[25.5,26],[26,26],[26.5,26],[27,26],[27.5,26.5],[28.5,26.5],[23,27],[23.5,27],[24,27],[24.5,27],[25,27],[25.5,27.2],[26,27],[26.5,27],[27,27],[27.5,27.2],[28,27.5],[28.5,27.8],[22.9,27.9],[23.2,27.9],[22.2,27.3],[22.6,27.2],[23.8,28],[24.5,28],[25,28],[25.5,28],[26,28],[26.5,28],[27,28],[27.5,28],[28,28.3],[28.5,28.2],[29,28],[29.5,27.7],[29.7,27.2],[30,27.1],[30.5,28.2],
[21.5,25.9],[21.2,25.9],[21.3,26.4],[22.7,25.5],[22.2,29.2],[21.5,29.3],[21.2,29.3],[21.2,31.2],[22.5,29.5],[23.2,29.3],[24,29],[24.5,29.7],[25,29],[25.5,29.2],[26,29.3],[26.5,29.2],[27,29],[27.5,29],[28,29],[28.5,29],[29,29.2],[29.5,29],[30,28.5],[30.4,29.3],[24.6,30.9],[25,30],[25.5,30],[26,30],[26.5,30],[27,30],[27.5,30],[28,30],[28.5,30],[29,30],[29.5,30],[30,30.2],[30.5,30.2],[25.5,31],[26,31.5],[26.3,31.8],[26.5,31],[27,31],[27.5,31.3],[28,31],[28.5,31.2],[29,31],[29.5,31],[30,31],[30.5,31],[27,32],[27.4,32.8],[28,32.5],[28.5,33],[29,32.5],[29.5,32],[30,32.5],[30.5,32],[31,32],[24.7,32.9],[28,33.8],[28.4,34],[29,33.5],[29.5,33.5],[30,34],[30.5,33.5],[31,33],[31.5,33.5],[32,33.5],[31.7,32.9],[27.3,34.7],[27.8,34.3],[29,34.2],[30,35],[30.5,34.5],[31,34.5],[31.5,34.8],[32,35],[32.5,34.8],[33,35],[32.8,34.4],[31.5,35.5],[32,35.7],[32.5,35.3],
[22.9,40],[30.8,39.8],[31.2,39.8],[31.2,39],[32.9,39.7],[33,39.3],[31.8,38.5],[32.4,38.5],[32.9,38.1],[31.3,38],[30.6,37.7],[30.7,37.3],[31,37],[30.1,36.8],[29.5,36.5],[29.3,36.1],[30.6,36.4],[31.9,37.2],[32.2,36.8],[32.4,36.3],[25.4,36.4],[24,35.3],[25.9,35.3],[27.7,35],[28.2,35.7],[28.4,35.3],[28.9,35.9],[29.1,35.9],[28.8,35],[29.8,35],[31.3,36],[31.8,36]
];
// second pass over the dense part of panel d
const hCore = [
[21.2,20.6],[21.7,19.7],[22.3,21.2],[22.8,20.7],[23.2,22.4],[23.7,21.2],[24.3,22.7],[24.8,21.8],[21.4,22.6],[21.8,21.3],[22.3,22.8],[22.7,22.2],[23.3,24],[23.8,23.4],[24.2,24.1],[24.7,23.2],[25.2,24.4],[25.7,25.4],[26.2,24.6],[22.2,24],[22.8,25],[23.3,25.2],[23.7,24],[24.2,25.4],[24.7,25.6],[25.2,26.6],[25.7,26.6],[26.3,25.6],[26.8,26.6],[27.2,27.5],[22.4,26.4],[23.2,26.4],[23.7,26.6],[24.2,27.6],[24.7,26.6],[25.3,27.6],[25.8,28.4],[26.3,28.6],[26.8,27.6],[27.2,28.6],[27.7,29.5],[28.3,28.6],[28.8,29.6],[29.3,28.6],[24.2,28.6],[24.8,28.8],[25.2,29.6],[25.7,29.8],[26.2,30.7],[26.7,30.4],[27.2,30.6],[27.7,30.6],[28.2,31.6],[28.8,30.6],[29.3,31.7],[29.8,31.7],[30.3,32.7],[26.8,31.7],[27.7,32.3],[28.2,32],[28.7,33.4],[29.2,33],[29.8,33],[30.2,33.2],[30.7,33],[31.3,34],[31.7,34.2],[23.4,22.8],[22.6,22.2],[24.6,24.4],[25.4,25.6],[26.6,27.6],[25.6,24.4],[26.4,23.4],[27.4,24.6],[25.8,22.8],[24.8,24],[23.6,23.8],[22.4,23.7],[21.8,23.6],[23.4,20.8],[22.4,20.8],[20.6,19.7],[20.8,18.2],[21.3,17.2],[21.8,18.7],[22.8,18.4],[20.4,17],[20.9,16.7],[23.6,18.6],[24.6,18],[25.2,21],[26.6,25.8],[28.6,27],[29.2,27.4],[29.8,29.8],[28.4,29.4],[27.6,28.7],[30.2,29.6],[26.4,29.4],[25.4,28.6],[24.4,27],[23.8,26.8],[23.4,28.6],[22.8,27.6],[27,27.5],[28.2,26.8],[29.6,29.3],[30.4,31.4],[30.8,32.6],[31.4,32.6],[27.2,31.4],[26.6,31.6],[27.8,31.8],[28.6,32],[29.4,32.4],[30.2,31.6],
[22.1,21.9],[22.6,22.8],[23.1,23.4],[23.6,22.6],[24.1,23.4],[24.6,23],[25.1,23],[25.6,23.8],[26.1,24.4],[21.9,22.2],[22.4,22.4],[22.9,23.8],[23.4,24.4],[23.9,24.9],[24.4,24],[24.9,24.7],[25.4,24.2],[25.9,25.6],[26.4,26.4],[26.9,25.4],[23.1,25],[23.6,25.2],[24.1,26.4],[24.6,25.2],[25.1,25.7],[25.6,26.4],[26.1,27.5],[26.6,26.4],[27.1,26.6],[27.6,27.7],[24.4,26.3],[24.9,27.4],[25.4,26.6],[25.9,27.6],[26.4,27.3],[26.9,28.6],[27.4,28.4],[27.9,28.8],[28.4,29.7],[25.1,28.4],[25.6,28.6],[26.1,28.9],[26.6,29.6],[27.1,29.6],[27.6,30.4],[28.1,30.4],[28.6,30.4],[29.1,30.6],[29.6,30.7],[27.4,31.9],[28.9,32],[29.7,33.7],[30.9,33.7],[31.4,33.3],[23.9,21.8],[23.1,20.9],[22.6,20.6],[21.9,20.8],[24.2,21.4],[24.9,22.9],[26.9,24.6],[27.3,26.1],[28.1,27.2],[29,29],[29.9,30.6],[30.6,31.6],[22.7,24],[24,24.7],[25.8,27.2],[26.3,26.7],[21.6,17],[22.2,17.4],[20.9,18.8],[21.5,19.8],[22.9,19.6]
];

const baAll = baPoints.concat(baCore);
const volAll = volPoints.concat(volCore);
const dbhAll = dbhPoints.concat(dbhCore);
const hAll = hPoints.concat(hCore);

const baPred = baAll.map(p => p[0]);
const baObs = baAll.map(p => p[1]);
const volPred = volAll.map(p => p[0]);
const volObs = volAll.map(p => p[1]);
const dbhPred = dbhAll.map(p => p[0]);
const dbhObs = dbhAll.map(p => p[1]);
const hPred = hAll.map(p => p[0]);
const hObs = hAll.map(p => p[1]);

// regression line end points
const baLineX = [6, 68.3], baLineY = [0, 78.4];
const volLineX = [95, 859], volLineY = [0, 1019];
const dbhLineX = [7.4, 58], dbhLineY = [0, 66.6];
const hLineX = [4.9, 33.15], hLineY = [0, 35.7];

const W = 3251, H = 2226;
const fontName = '"DejaVu Sans", sans-serif';
const textColor = '#333';
const labelSize = 25, tickSize = 23;
const viridis = ['#440154','#482878','#3e4989','#31688e','#26828e','#1f9e89','#35b779','#6ece58','#b5de2b','#fde725'];

// colorbar in the reference has alpha .5 too, so blend with white
function faded(hex) {
  const r = parseInt(hex.slice(1, 3), 16), g = parseInt(hex.slice(3, 5), 16), b = parseInt(hex.slice(5, 7), 16);
  return 'rgb(' + [r, g, b].map(v => Math.round((v + 255) / 2)).join(',') + ')';
}
const fadedScale = viridis.map((c, i) => [i / (viridis.length - 1), faded(c)]);

const panels = [
  { name: 'a', xs: baPred, ys: baObs, lx: baLineX, ly: baLineY, r2: '0.83', xt: 'Predicted BA (m2/ha)', yt: 'Observed BA (m2/ha)',
    xr: [0, 71.85], yr: [0, 100.4], dx: 10, dy: 20, cmax: 95.5, cd: 20, left: 128, right: 1355, top: 69, bottom: 1015, cb: 1433 },
  { name: 'b', xs: volPred, ys: volObs, lx: volLineX, ly: volLineY, r2: '0.81', xt: 'Predicted vol (m3/ha)', yt: 'Observed vol (m3/ha)',
    xr: [0, 903], yr: [0, 1638], dx: 200, dy: 200, cmax: 1559, cd: 200, left: 1759, right: 2988, top: 69, bottom: 1015, cb: 3064 },
  { name: 'c', xs: dbhPred, ys: dbhObs, lx: dbhLineX, ly: dbhLineY, r2: '0.83', xt: 'Predicted DBH (cm)', yt: 'Observed DBHH (cm)',
    xr: [0, 60.95], yr: [0, 85.2], dx: 10, dy: 10, cmax: 80.9, cd: 10, left: 128, right: 1355, top: 1163, bottom: 2110, cb: 1433 },
  { name: 'd', xs: hPred, ys: hObs, lx: hLineX, ly: hLineY, r2: '0.85', xt: 'Predicted H (m)', yt: 'Observed H (m)',
    xr: [0, 34.9], yr: [0, 42.3], dx: 5, dy: 5, cmax: 40, cd: 5, left: 1759, right: 2988, top: 1163, bottom: 2110, cb: 3064 }
];

const traces = [];
const layout = {
  width: W, height: H, autosize: false,
  margin: { l: 0, r: 0, t: 0, b: 0 },
  paper_bgcolor: '#fff', plot_bgcolor: '#fff',
  font: { family: fontName, size: tickSize, color: textColor },
  annotations: []
};

panels.forEach((p, i) => {
  const n = i === 0 ? '' : String(i + 1);
  const legendId = 'legend' + n;
  const axis = {
    showline: true, mirror: true, linecolor: '#333', linewidth: 2,
    ticks: 'outside', ticklen: 8, tickwidth: 2, tickcolor: '#333',
    showgrid: true, gridcolor: '#c2c2c2', gridwidth: 2, zeroline: false,
    tickfont: { family: fontName, size: tickSize, color: textColor }
  };
  layout['xaxis' + n] = Object.assign({}, axis, {
    domain: [p.left / W, p.right / W], range: p.xr, dtick: p.dx, anchor: 'y' + n,
    title: { text: p.xt, standoff: 14, font: { family: fontName, size: labelSize, color: textColor } }
  });
  layout['yaxis' + n] = Object.assign({}, axis, {
    domain: [1 - p.bottom / H, 1 - p.top / H], range: p.yr, dtick: p.dy, anchor: 'x' + n,
    title: { text: p.yt, standoff: 18, font: { family: fontName, size: labelSize, color: textColor } }
  });
  layout[legendId] = {
    x: (p.left + 13) / W, y: 1 - (p.top + 14) / H, xanchor: 'left', yanchor: 'top',
    bgcolor: 'rgba(255,255,255,0.8)', bordercolor: '#d4d4d4', borderwidth: 2,
    font: { family: fontName, size: labelSize, color: textColor }, itemwidth: 68, tracegroupgap: 0
  };
  layout.annotations.push({
    text: p.name, xref: 'paper', yref: 'paper', showarrow: false,
    x: (p.left + p.right) / 2 / W, y: 1 - (p.top - 8) / H, xanchor: 'center', yanchor: 'bottom',
    font: { family: fontName, size: 30, color: textColor }
  });

  traces.push({
    type: 'scatter', mode: 'markers', name: 'Data', x: p.xs, y: p.ys, xaxis: 'x' + n, yaxis: 'y' + n, legend: legendId,
    marker: { size: 18, opacity: 0.5, color: p.ys, cmin: 0, cmax: p.cmax, colorscale: 'Viridis', line: { width: 0 } }
  });
  traces.push({
    type: 'scatter', mode: 'lines', name: 'Regression Line (R\u00b2 = ' + p.r2 + ')', x: p.lx, y: p.ly, xaxis: 'x' + n, yaxis: 'y' + n, legend: legendId,
    line: { color: '#2b8a2b', width: 4.5 }
  });
  // empty trace, only carries the faded colorbar
  traces.push({
    type: 'scatter', mode: 'markers', x: [null], y: [null], xaxis: 'x' + n, yaxis: 'y' + n, showlegend: false, hoverinfo: 'skip',
    marker: {
      color: [0], cmin: 0, cmax: p.cmax, colorscale: fadedScale, showscale: true,
      colorbar: {
        x: p.cb / W, xanchor: 'left', xpad: 0, y: 1 - p.bottom / H, yanchor: 'bottom', ypad: 0,
        lenmode: 'pixels', len: p.bottom - p.top, thicknessmode: 'pixels', thickness: 48,
        outlinecolor: '#333', outlinewidth: 2, ticks: 'outside', ticklen: 8, tickwidth: 2, tickcolor: '#333',
        dtick: p.cd, tick0: 0, tickfont: { family: fontName, size: tickSize, color: textColor },
        title: { text: 'True Labels Value', side: 'right', font: { family: fontName, size: labelSize, color: textColor } }
      }
    }
  });
});

Plotly.newPlot('chart', traces, layout, { displayModeBar: false, staticPlot: true });
</script>
</body>
</html>
